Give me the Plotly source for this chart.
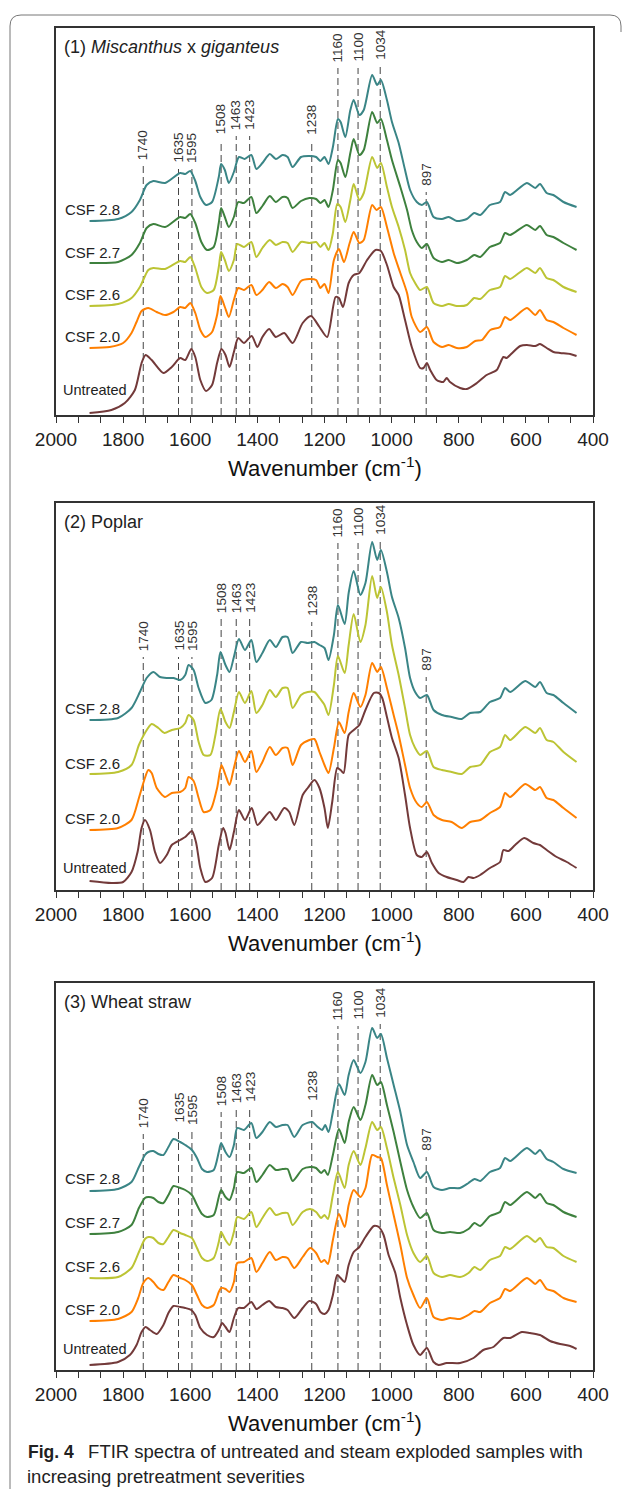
import plotly.graph_objects as go

# ---------------- DATA (wavenumber cm-1, absorbance in offset a.u.) ----------------
PEAKS = [1740, 1635, 1595, 1508, 1463, 1423, 1238, 1160, 1100, 1034, 897]
X_TICKS = [2000, 1800, 1600, 1400, 1200, 1000, 800, 600, 400]

MG_UNTREATED = [(1900,2),(1835,5),(1795,12),(1765,25),(1745,52),(1733,60),(1715,55),(1680,42),(1655,48),(1630,57),(1615,55),(1597,66),(1585,58),(1570,35),(1553,24),(1535,30),(1520,52),(1507,66),(1495,60),(1483,48),(1470,63),(1457,77),(1440,72),(1417,79),(1400,68),(1385,78),(1365,86),(1345,78),(1320,82),(1295,72),(1265,92),(1240,99),(1215,88),(1192,78),(1167,118),(1157,117),(1145,108),(1128,132),(1113,140),(1096,142),(1073,155),(1048,165),(1032,164),(1014,150),(994,128),(979,120),(960,95),(940,68),(915,47),(905,47),(895,52),(885,45),(866,35),(846,33),(836,37),(826,33),(796,27),(776,26),(746,32),(717,40),(687,45),(667,58),(657,57),(647,60),(617,69),(597,70),(572,69),(558,71),(538,67),(518,63),(498,62),(468,61),(449,59)]
MG_CSF20 = [(1900,67),(1840,68),(1800,72),(1775,82),(1760,93),(1745,104),(1725,107),(1700,103),(1675,100),(1650,103),(1630,108),(1615,107),(1600,112),(1585,102),(1570,85),(1555,78),(1535,83),(1520,100),(1510,119),(1497,108),(1485,98),(1470,115),(1457,127),(1440,125),(1418,130),(1403,120),(1385,125),(1365,133),(1345,127),(1325,131),(1310,128),(1295,120),(1270,134),(1245,136),(1225,135),(1212,127),(1200,131),(1188,122),(1172,155),(1157,166),(1142,153),(1125,172),(1113,183),(1096,172),(1083,175),(1058,210),(1045,205),(1032,208),(1014,188),(994,162),(974,142),(954,122),(940,98),(915,83),(895,88),(875,73),(850,68),(830,70),(806,67),(776,68),(751,74),(731,75),(706,85),(677,88),(662,98),(647,95),(597,107),(572,100),(558,105),(538,95),(518,93),(488,87),(449,80)]
MG_CSF26 = [(1900,109),(1815,111),(1775,117),(1750,128),(1725,145),(1710,147),(1675,146),(1630,154),(1615,153),(1600,158),(1585,147),(1567,128),(1550,122),(1530,125),(1515,148),(1508,163),(1497,155),(1485,144),(1470,155),(1460,171),(1440,168),(1418,173),(1403,158),(1385,167),(1363,175),(1345,170),(1325,173),(1310,172),(1295,163),(1270,173),(1245,172),(1225,173),(1212,168),(1200,172),(1188,165),(1175,182),(1162,211),(1152,208),(1138,193),(1123,215),(1113,231),(1096,215),(1083,222),(1058,258),(1043,247),(1032,252),(1014,228),(999,208),(979,188),(960,165),(945,142),(930,132),(915,125),(895,128),(875,112),(850,109),(830,111),(806,109),(776,110),(754,117),(736,116),(707,125),(677,128),(662,139),(647,136),(597,147),(572,142),(558,147),(538,137),(518,135),(488,128),(449,123)]
MG_CSF27 = [(1900,152),(1815,153),(1775,160),(1750,172),(1730,187),(1710,191),(1675,188),(1630,198),(1615,197),(1600,201),(1585,192),(1567,173),(1550,165),(1530,168),(1515,192),(1508,207),(1497,198),(1485,188),(1470,198),(1457,213),(1440,212),(1418,218),(1403,202),(1385,209),(1363,219),(1345,213),(1325,218),(1310,217),(1295,207),(1270,214),(1245,217),(1225,216),(1212,212),(1200,215),(1188,208),(1175,225),(1160,255),(1152,252),(1138,238),(1123,262),(1113,276),(1096,260),(1083,265),(1058,303),(1043,292),(1032,296),(1014,275),(999,255),(974,228),(954,205),(940,185),(925,173),(910,167),(895,171),(875,157),(850,153),(830,155),(806,152),(776,155),(754,160),(736,158),(707,168),(677,172),(662,182),(647,180),(597,190),(572,185),(558,189),(538,180),(518,178),(488,172),(449,165)]
MG_CSF28 = [(1900,194),(1815,196),(1775,203),(1750,215),(1730,230),(1710,234),(1675,232),(1630,242),(1615,241),(1600,244),(1585,234),(1570,218),(1553,210),(1535,213),(1515,238),(1508,251),(1497,245),(1485,232),(1470,243),(1455,258),(1438,256),(1418,260),(1403,246),(1385,252),(1363,261),(1345,256),(1325,260),(1310,258),(1295,248),(1270,258),(1245,259),(1225,258),(1212,254),(1200,258),(1188,251),(1175,268),(1160,296),(1152,293),(1138,278),(1123,305),(1113,315),(1096,300),(1083,305),(1058,340),(1043,330),(1032,335),(1014,315),(999,293),(979,272),(960,245),(945,225),(925,213),(910,210),(895,213),(875,198),(850,196),(830,198),(806,194),(776,196),(754,202),(736,200),(707,210),(677,213),(662,223),(647,220),(597,232),(572,227),(558,231),(538,222),(518,220),(488,213),(449,208)]

PO_UNTREATED = [(1900,9),(1835,7),(1800,8),(1775,18),(1757,38),(1745,62),(1735,70),(1720,60),(1705,38),(1690,27),(1670,35),(1655,45),(1630,50),(1615,53),(1595,59),(1583,48),(1570,22),(1555,8),(1535,12),(1515,45),(1502,62),(1495,57),(1483,40),(1470,58),(1455,80),(1437,70),(1417,82),(1400,65),(1385,70),(1363,78),(1345,70),(1320,82),(1305,78),(1290,65),(1265,95),(1250,102),(1230,110),(1215,102),(1200,82),(1190,62),(1177,88),(1162,122),(1152,120),(1143,117),(1128,155),(1113,160),(1096,165),(1078,180),(1053,197),(1038,197),(1028,192),(1014,173),(999,152),(979,132),(960,95),(945,62),(925,35),(910,33),(895,38),(880,27),(860,17),(836,13),(806,10),(786,8),(771,13),(756,12),(736,15),(707,22),(677,28),(667,40),(652,39),(632,45),(605,52),(578,47),(558,45),(538,40),(508,33),(478,28),(449,22)]
PO_CSF20 = [(1900,60),(1815,62),(1775,70),(1753,92),(1737,110),(1725,120),(1715,117),(1700,102),(1675,93),(1655,97),(1630,98),(1615,102),(1605,113),(1590,109),(1575,92),(1560,78),(1540,80),(1520,102),(1507,125),(1495,115),(1483,105),(1470,122),(1455,139),(1437,128),(1418,139),(1403,118),(1385,128),(1363,143),(1345,135),(1325,142),(1310,142),(1295,125),(1270,145),(1245,150),(1230,151),(1215,138),(1200,125),(1188,117),(1172,142),(1157,168),(1140,157),(1128,178),(1113,197),(1093,183),(1078,195),(1058,227),(1043,218),(1032,223),(1014,202),(994,175),(979,155),(960,125),(945,102),(925,87),(910,83),(895,88),(875,75),(850,70),(821,68),(791,62),(766,68),(736,70),(707,77),(677,83),(662,97),(647,93),(602,106),(572,100),(558,103),(538,92),(518,90),(488,82),(449,72)]
PO_CSF26 = [(1900,116),(1815,118),(1775,125),(1753,145),(1735,157),(1715,166),(1695,162),(1677,157),(1655,160),(1630,162),(1615,167),(1605,175),(1590,170),(1575,148),(1560,135),(1540,135),(1525,155),(1510,181),(1495,168),(1483,162),(1470,178),(1455,198),(1437,187),(1418,199),(1403,177),(1385,185),(1363,200),(1345,193),(1325,202),(1310,202),(1295,182),(1270,195),(1250,198),(1230,198),(1215,192),(1200,185),(1188,175),(1172,205),(1160,234),(1140,217),(1128,245),(1113,276),(1093,248),(1078,265),(1058,314),(1043,292),(1032,303),(1014,278),(999,245),(979,215),(960,182),(945,155),(930,142),(915,135),(895,139),(875,123),(850,120),(821,118),(791,116),(766,123),(736,125),(707,138),(677,143),(662,155),(647,150),(602,163),(572,157),(558,162),(538,150),(518,148),(488,138),(449,128)]
PO_CSF28 = [(1900,170),(1815,172),(1775,182),(1750,198),(1730,212),(1710,218),(1690,213),(1670,212),(1650,212),(1630,210),(1615,215),(1605,225),(1590,220),(1575,202),(1555,187),(1537,190),(1520,215),(1510,238),(1495,225),(1483,218),(1470,233),(1455,251),(1437,240),(1418,250),(1403,228),(1385,237),(1363,250),(1345,243),(1325,253),(1310,253),(1295,237),(1270,248),(1250,247),(1230,248),(1215,245),(1200,242),(1188,230),(1172,255),(1160,285),(1140,266),(1128,297),(1113,319),(1093,295),(1078,307),(1058,348),(1043,330),(1032,340),(1014,318),(999,293),(979,272),(960,242),(945,212),(930,198),(915,192),(895,195),(875,180),(850,175),(821,173),(791,171),(766,177),(736,178),(707,188),(677,192),(662,202),(647,198),(602,209),(572,203),(558,208),(538,197),(518,195),(488,187),(449,177)]

WS_UNTREATED = [(1900,5),(1815,8),(1780,15),(1760,25),(1745,38),(1733,43),(1720,40),(1700,36),(1680,45),(1665,57),(1650,64),(1630,63),(1615,62),(1597,60),(1585,55),(1570,42),(1550,35),(1530,33),(1515,40),(1505,47),(1495,43),(1483,38),(1470,52),(1457,62),(1440,62),(1418,68),(1403,61),(1385,65),(1365,69),(1345,63),(1325,62),(1310,60),(1290,52),(1265,62),(1245,69),(1225,66),(1212,58),(1200,56),(1188,60),(1175,75),(1162,95),(1152,92),(1140,88),(1128,105),(1113,118),(1096,123),(1078,133),(1053,144),(1038,143),(1024,135),(1009,115),(989,97),(974,72),(954,45),(935,25),(915,15),(895,22),(875,8),(860,5),(836,7),(796,7),(756,12),(727,20),(697,23),(667,32),(647,32),(612,38),(588,37),(558,35),(528,29),(498,26),(468,24),(449,21)]
WS_CSF20 = [(1900,49),(1815,51),(1775,58),(1755,72),(1740,87),(1725,92),(1710,88),(1695,82),(1680,80),(1665,88),(1650,95),(1630,92),(1615,90),(1595,85),(1580,75),(1565,65),(1550,62),(1530,65),(1515,78),(1508,82),(1495,81),(1483,78),(1470,88),(1460,107),(1440,108),(1418,112),(1403,98),(1385,107),(1363,118),(1345,110),(1325,113),(1310,112),(1290,102),(1265,113),(1243,122),(1225,117),(1210,108),(1200,110),(1190,106),(1175,130),(1157,156),(1140,143),(1128,165),(1113,180),(1093,173),(1078,182),(1058,215),(1043,213),(1032,212),(1014,185),(994,155),(974,125),(954,92),(935,75),(915,62),(895,72),(875,53),(850,50),(826,52),(796,51),(771,55),(753,59),(736,58),(707,67),(677,72),(662,81),(647,79),(597,92),(572,86),(558,90),(538,81),(518,79),(488,72),(449,68)]
WS_CSF26 = [(1900,92),(1815,93),(1775,102),(1753,118),(1735,131),(1725,133),(1710,132),(1695,127),(1680,126),(1665,133),(1650,140),(1630,137),(1615,135),(1595,132),(1580,122),(1565,112),(1550,109),(1530,112),(1515,128),(1508,138),(1495,130),(1483,125),(1470,138),(1460,153),(1440,151),(1418,158),(1403,143),(1385,152),(1363,162),(1345,155),(1325,157),(1310,157),(1295,145),(1265,158),(1243,161),(1225,158),(1210,152),(1200,155),(1190,151),(1175,175),(1160,198),(1140,182),(1128,205),(1113,219),(1093,205),(1078,222),(1058,248),(1043,240),(1032,243),(1014,222),(994,192),(974,165),(954,135),(935,117),(915,108),(895,114),(875,97),(850,93),(826,95),(796,93),(771,97),(753,103),(736,100),(707,110),(677,114),(662,123),(647,121),(597,134),(572,128),(558,132),(538,123),(518,122),(488,114),(449,108)]
WS_CSF27 = [(1900,136),(1815,138),(1775,145),(1753,162),(1735,172),(1725,173),(1710,172),(1695,168),(1680,167),(1665,175),(1650,184),(1630,182),(1615,180),(1595,175),(1580,165),(1565,156),(1550,153),(1530,155),(1515,173),(1508,180),(1495,173),(1483,170),(1470,182),(1460,198),(1440,197),(1418,202),(1403,188),(1385,195),(1363,205),(1345,200),(1325,201),(1310,201),(1295,189),(1265,201),(1243,203),(1225,202),(1210,197),(1200,200),(1190,195),(1175,215),(1157,241),(1140,227),(1128,248),(1113,263),(1093,250),(1078,265),(1058,295),(1043,285),(1032,288),(1014,265),(994,238),(974,208),(954,180),(935,163),(915,152),(895,157),(875,140),(850,137),(826,138),(796,137),(771,141),(753,147),(736,144),(707,154),(677,158),(662,168),(647,165),(597,178),(572,172),(558,176),(538,167),(518,165),(488,158),(449,153)]
WS_CSF28 = [(1900,179),(1815,181),(1775,188),(1753,203),(1735,215),(1725,218),(1710,219),(1695,216),(1680,215),(1665,223),(1650,231),(1630,228),(1615,225),(1595,220),(1580,212),(1565,201),(1550,198),(1530,200),(1515,218),(1508,227),(1495,218),(1483,213),(1470,225),(1460,242),(1440,240),(1418,247),(1403,232),(1385,238),(1363,248),(1345,243),(1325,245),(1310,245),(1290,233),(1265,245),(1237,248),(1220,243),(1207,240),(1198,245),(1188,238),(1175,258),(1157,286),(1140,275),(1128,295),(1113,310),(1093,297),(1078,308),(1058,342),(1043,332),(1032,336),(1014,312),(994,285),(974,258),(954,225),(935,208),(915,192),(895,198),(875,183),(850,180),(826,182),(796,182),(771,187),(753,191),(736,189),(707,198),(677,202),(662,212),(647,209),(597,222),(572,216),(558,220),(538,211),(518,208),(488,201),(449,197)]

# ---------------- STYLE / LAYOUT ----------------
PAGE_W, PAGE_H = 630, 1497
BODY_MARGIN = 8                      # default browser body margin around the plot div
W, H = PAGE_W - 2 * BODY_MARGIN, PAGE_H - 2 * BODY_MARGIN
FONT = "Liberation Sans, Arial, Helvetica, sans-serif"
COLORS = {"Untreated": "#733a3a", "CSF 2.0": "#ff7f00", "CSF 2.6": "#bcc434",
          "CSF 2.7": "#3e813e", "CSF 2.8": "#3a8586"}


def px(x):
    """page pixel x -> paper coordinate"""
    return (x - BODY_MARGIN) / W


def py(y):
    """page pixel y -> paper coordinate"""
    return 1 - (y - BODY_MARGIN) / H


X_LEFT, X_RIGHT = 56, 593
PANELS = [
    dict(title="(1) <i>Miscanthus</i> x <i>giganteus</i>", top=28, bottom=415,
         series=[("Untreated", MG_UNTREATED), ("CSF 2.0", MG_CSF20), ("CSF 2.6", MG_CSF26),
                 ("CSF 2.7", MG_CSF27), ("CSF 2.8", MG_CSF28)],
         label_y={"CSF 2.8": 205, "CSF 2.7": 162, "CSF 2.6": 120, "CSF 2.0": 78, "Untreated": 25},
         peak_lab=[253, 250, 250, 279, 283, 283, 278, 351, 351, 353, 227]),
    dict(title="(2) Poplar", top=503, bottom=890,
         series=[("Untreated", PO_UNTREATED), ("CSF 2.0", PO_CSF20), ("CSF 2.6", PO_CSF26),
                 ("CSF 2.8", PO_CSF28)],
         label_y={"CSF 2.8": 182, "CSF 2.6": 127, "CSF 2.0": 72, "Untreated": 22},
         peak_lab=[237, 237, 237, 275, 275, 275, 272, 351, 351, 353, 217]),
    dict(title="(3) Wheat straw", top=983, bottom=1370,
         series=[("Untreated", WS_UNTREATED), ("CSF 2.0", WS_CSF20), ("CSF 2.6", WS_CSF26),
                 ("CSF 2.7", WS_CSF27), ("CSF 2.8", WS_CSF28)],
         label_y={"CSF 2.8": 192, "CSF 2.7": 148, "CSF 2.6": 104, "CSF 2.0": 61, "Untreated": 21},
         peak_lab=[240, 245, 243, 262, 265, 266, 267, 348, 348, 350, 217]),
]

fig = go.Figure()
annotations = []
shapes = []
minor_vals = [2000 - k * 200 / 3 for k in range(25)]

for i, p in enumerate(PANELS, start=1):
    xa = "x" if i == 1 else f"x{i}"
    ya = "y" if i == 1 else f"y{i}"
    hgt = p["bottom"] - p["top"]
    for name, pts in p["series"]:
        fig.add_trace(go.Scatter(
            x=[a for a, _ in pts], y=[b for _, b in pts], mode="lines", name=name,
            xaxis=xa, yaxis=ya, showlegend=False, hoverinfo="skip",
            line=dict(color=COLORS[name], width=2, shape="spline", smoothing=0.7)))
    fig.layout[("xaxis" if i == 1 else f"xaxis{i}")] = dict(
        domain=[px(X_LEFT), px(X_RIGHT)], anchor=ya, range=[2000, 400], automargin=False,
        showline=True, linecolor="#333", linewidth=1.5, mirror=True,
        ticks="outside", tickmode="array", tickvals=X_TICKS, ticklen=6, tickwidth=1,
        tickcolor="#333", tickfont=dict(size=19, color="#222", family=FONT),
        showgrid=False, zeroline=False,
        minor=dict(tickmode="array", tickvals=minor_vals, ticks="outside", ticklen=6,
                   tickwidth=1, tickcolor="#333", showgrid=False))
    fig.layout[("yaxis" if i == 1 else f"yaxis{i}")] = dict(
        domain=[py(p["bottom"]), py(p["top"])], anchor=xa, range=[0, hgt], automargin=False,
        showline=True, linecolor="#333", linewidth=1.5, mirror=True,
        showticklabels=False, ticks="", showgrid=False, zeroline=False)

    # peak marker lines and labels
    for wn, lab_h in zip(PEAKS, p["peak_lab"]):
        shapes.append(dict(type="line", xref=xa, yref=ya, x0=wn, x1=wn, y0=0, y1=lab_h - 4,
                           line=dict(color="#444", width=1, dash="7px,4px"), layer="below"))
        annotations.append(dict(xref=xa, yref=ya, x=wn, y=lab_h, text=str(wn), textangle=-90,
                                showarrow=False, xanchor="center", yanchor="bottom",
                                font=dict(size=13.5, color="#333", family=FONT)))
    # series labels
    for name, hy in p["label_y"].items():
        annotations.append(dict(xref=xa, yref=ya, x=1979 if name != "Untreated" else 1985, y=hy,
                                text=name, showarrow=False, xanchor="left", yanchor="middle",
                                font=dict(size=15 if name != "Untreated" else 14.5, color="#222", family=FONT)))
    # panel title
    annotations.append(dict(xref="paper", yref="paper", x=px(62), y=py(p["top"] + 19),
                            text=p["title"], showarrow=False, xanchor="left", yanchor="middle",
                            font=dict(size=18, color="#222", family=FONT)))
    # axis title
    annotations.append(dict(xref="paper", yref="paper", x=px((X_LEFT + X_RIGHT) / 2),
                            y=py(p["bottom"] + 52), text="Wavenumber (cm<sup>-1</sup>)",
                            showarrow=False, xanchor="center", yanchor="middle",
                            font=dict(size=22, color="#111", family=FONT)))

# caption
annotations.append(dict(xref="paper", yref="paper", x=px(26), y=py(1451),
                        text="<b style='font-size:17.5px'>Fig. 4</b>\u2002 FTIR spectra of untreated and steam exploded samples with",
                        showarrow=False, xanchor="left", yanchor="middle",
                        font=dict(size=18.5, color="#222", family=FONT)))
annotations.append(dict(xref="paper", yref="paper", x=px(26), y=py(1476),
                        text="increasing pretreatment severities",
                        showarrow=False, xanchor="left", yanchor="middle", borderpad=0,
                        font=dict(size=18.5, color="#222", family=FONT)))

# outer frame (top + left edge, rounded corners)
frame = (f"M {px(10)},{py(1497)} L {px(10)},{py(26)} Q {px(10)},{py(15)} {px(21)},{py(15)} "
         f"L {px(610)},{py(15)} Q {px(621)},{py(15)} {px(621)},{py(26)} L {px(621)},{py(32)}")
shapes.append(dict(type="path", xref="paper", yref="paper", path=frame,
                   line=dict(color="#777", width=1)))

fig.update_layout(width=W, height=H, autosize=False,
                  margin=dict(l=0, r=0, t=0, b=0, pad=0, autoexpand=False),
                  paper_bgcolor="white", plot_bgcolor="white",
                  font=dict(family=FONT, color="#222"),
                  annotations=annotations, shapes=shapes)

fig.write_html("out.html", config={"displayModeBar": False})
